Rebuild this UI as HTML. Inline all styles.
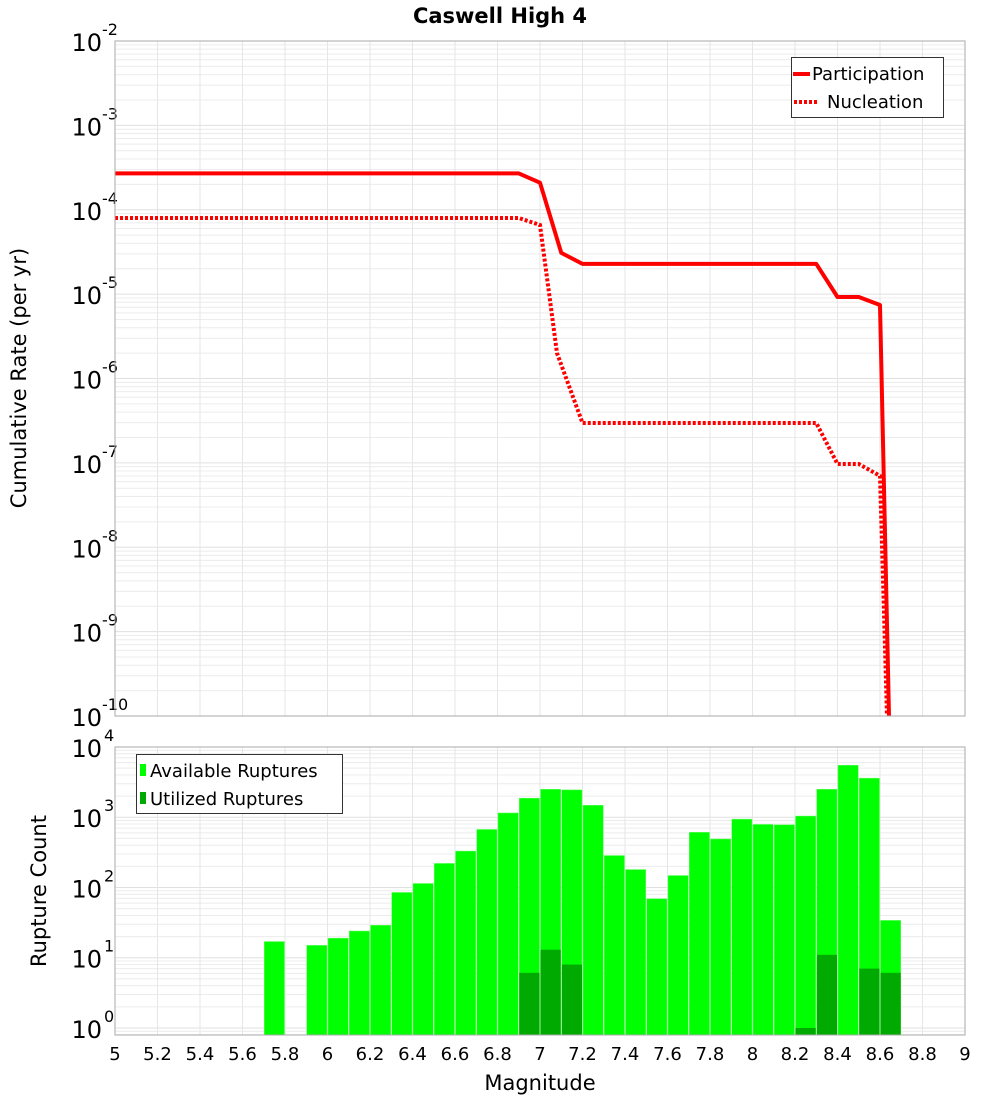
<!DOCTYPE html>
<html><head><meta charset="utf-8"><style>
html,body{margin:0;padding:0;background:#fff;}
svg text{font-family:"DejaVu Sans","Liberation Sans",sans-serif;}
</style></head><body>
<svg id="chart" width="1000" height="1100" xmlns="http://www.w3.org/2000/svg">
<text x="500" y="23" text-anchor="middle" font-size="21" font-weight="bold">Caswell High 4</text>
<g id="gtop"></g>
<g id="gbot"></g>
<text transform="translate(26,378) rotate(-90)" text-anchor="middle" font-size="21">Cumulative Rate (per yr)</text>
<text transform="translate(46,891) rotate(-90)" text-anchor="middle" font-size="21">Rupture Count</text>
<text x="540" y="1090" text-anchor="middle" font-size="21">Magnitude</text>
</svg>
<script>
const partMag = [5.0, 6.9, 7.0, 7.1, 7.2, 8.3, 8.4, 8.5, 8.6, 8.7];
const partRate = [2.70e-4, 2.70e-4, 2.09e-4, 3.08e-5, 2.28e-5, 2.28e-5, 9.25e-6, 9.25e-6, 7.43e-6, 2.5e-17];
const nuclMag = [5.0, 6.9, 7.0, 7.08, 7.2, 8.3, 8.4, 8.5, 8.6, 8.7];
const nuclRate = [7.98e-5, 7.98e-5, 6.59e-5, 2.0e-6, 2.97e-7, 2.97e-7, 9.7e-8, 9.7e-8, 7.0e-8, 1.7e-16];
const binMag = [5.75,5.95,6.05,6.15,6.25,6.35,6.45,6.55,6.65,6.75,6.85,6.95,7.05,7.15,7.25,7.35,7.45,7.55,7.65,7.75,7.85,7.95,8.05,8.15,8.25,8.35,8.45,8.55,8.65];
const availCount = [17,15,19,24,29,85,114,220,330,670,1150,1870,2500,2450,1480,285,180,69,148,610,490,940,790,780,1040,2500,5500,3600,34];
const utilCount = [0,0,0,0,0,0,0,0,0,0,0,6.1,13,8,0,0,0,0,0,0,0,0,0,0,1,11,0,7,6.1];
const xTicks = ["5","5.2","5.4","5.6","5.8","6","6.2","6.4","6.6","6.8","7","7.2","7.4","7.6","7.8","8","8.2","8.4","8.6","8.8","9"];
const topExp = [-2,-3,-4,-5,-6,-7,-8,-9,-10];
const botExp = [4,3,2,1,0];

const NS="http://www.w3.org/2000/svg";
function mk(p,tag,at){const e=document.createElementNS(NS,tag);for(const k in at)e.setAttribute(k,at[k]);p.appendChild(e);return e;}
const L=115,R=965;
const xs=m=>L+(m-5)/4*(R-L);
const T1=41,B1=716, yTop=v=>T1+(-2-Math.log10(v))*(B1-T1)/8;
const T2=747,B2=1035, yBot=v=>T2+(4-Math.log10(v))*(B2-T2)/4.1;

const gTop=document.getElementById('gtop'), gBot=document.getElementById('gbot');
function grid(g,T,B,yf,dmin,dmax){
  for(let d=dmin;d<dmax;d++)for(let k=1;k<10;k++){const y=yf(k*Math.pow(10,d));if(y<T-0.5||y>B+0.5)continue;
    const l=mk(g,'line',{x1:L,x2:R,y1:y,y2:y,stroke:k==1?'#e0e0e0':'#ececec','stroke-width':1});
    
    }
  for(let i=0;i<xTicks.length;i++){const x=xs(+xTicks[i]);const l=mk(g,'line',{x1:x,x2:x,y1:T,y2:B,stroke:'#e6e6e6','stroke-width':1});
    
    }
}
grid(gTop,T1,B1,yTop,-10,-1);
grid(gBot,T2,B2,yBot,-1,4);

topExp.forEach(e=>{const y=yTop(Math.pow(10,e));const t=mk(gTop,'text',{x:102,y:y+10,'text-anchor':'end','font-size':24});
  
  
  t.textContent='10';const s=mk(gTop,'text',{x:102,y:y-6,'font-size':16});
  
  
  s.textContent=String(e);});
botExp.forEach(e=>{const y=yBot(Math.pow(10,e));const t=mk(gBot,'text',{x:102,y:y+10,'text-anchor':'end','font-size':24});
  
  
  t.textContent='10';const s=mk(gBot,'text',{x:104,y:y-6,'font-size':16});
  
  
  s.textContent=String(e);});
xTicks.forEach(v=>{const t=mk(gBot,'text',{x:xs(+v),y:1060,'text-anchor':'middle','font-size':18});
  
  
  t.textContent=v;});

const cp=mk(gTop,'clipPath',{id:'c1'});
mk(cp,'rect',{x:L,y:T1,width:R-L,height:B1-T1});
function pts(ms,vs){return ms.map((m,i)=>xs(m).toFixed(1)+','+yTop(vs[i]).toFixed(1)).join(' ');}
const p1=mk(gTop,'polyline',{points:pts(partMag,partRate),fill:'none',stroke:'#ff0000','stroke-width':4,'clip-path':'url(#c1)','stroke-linejoin':'round'});


const p2=mk(gTop,'polyline',{points:pts(nuclMag,nuclRate),fill:'none',stroke:'#ff0000','stroke-width':4,'stroke-dasharray':'3 2','clip-path':'url(#c1)'});


const f1=mk(gTop,'rect',{x:L,y:T1,width:R-L,height:B1-T1,fill:'none',stroke:'#aaaaaa','stroke-width':1});



const bw=(R-L)/40;
binMag.forEach((m,i)=>{const x=xs(m)-bw/2+0.5;
  if(availCount[i]>0){const y=yBot(availCount[i]);const r=mk(gBot,'rect',{x:x,y:y,width:bw-1,height:B2-y,fill:'#00ff00',stroke:'#66ff66','stroke-width':0.5});
    
    }
  if(utilCount[i]>0){const y=yBot(utilCount[i]);const r=mk(gBot,'rect',{x:x,y:y,width:bw-1,height:B2-y,fill:'#00aa00'});
    
    }
});
const f2=mk(gBot,'rect',{x:L,y:T2,width:R-L,height:B2-T2,fill:'none',stroke:'#aaaaaa','stroke-width':1});



const lg1=mk(gTop,'g',{});


mk(lg1,'rect',{x:791.5,y:57.5,width:152,height:60,fill:'#fff',stroke:'#333','stroke-width':1});
mk(lg1,'line',{x1:793,x2:810,y1:74,y2:74,stroke:'#ff0000','stroke-width':4});
mk(lg1,'line',{x1:794,x2:818,y1:102,y2:102,stroke:'#ff0000','stroke-width':4,'stroke-dasharray':'3 2'});
const a=mk(lg1,'text',{x:812,y:80,'font-size':18});a.textContent='Participation';
const b=mk(lg1,'text',{x:827,y:108,'font-size':18});b.textContent='Nucleation';
const lg2=mk(gBot,'g',{});


mk(lg2,'rect',{x:136.5,y:754.5,width:206,height:59,fill:'#fff',stroke:'#333','stroke-width':1});
mk(lg2,'rect',{x:140,y:764,width:6,height:12,fill:'#00ff00'});
mk(lg2,'rect',{x:140,y:792,width:6,height:12,fill:'#00aa00'});
const c=mk(lg2,'text',{x:150,y:777,'font-size':18});c.textContent='Available Ruptures';
const d=mk(lg2,'text',{x:150,y:805,'font-size':18});d.textContent='Utilized Ruptures';
</script>
</body></html>
